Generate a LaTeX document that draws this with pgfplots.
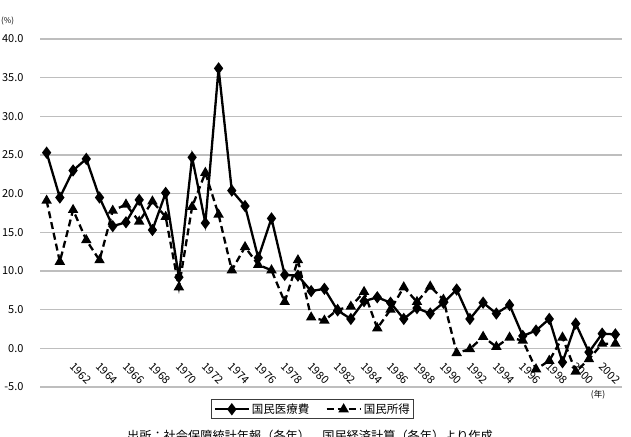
\documentclass[border=0pt]{standalone}
\usepackage{fontspec}
\setmainfont{Noto Sans CJK JP}
\usepackage{pgfplots}
\pgfplotsset{compat=1.18}
\usepackage{pgfplotstable}
\definecolor{gridgray}{RGB}{190,190,190}

\pgfplotstableread{
year med inc
1961 25.3 19.1
1962 19.5 11.2
1963 23.0 17.9
1964 24.5 14.0
1965 19.5 11.4
1966 15.8 17.8
1967 16.3 18.6
1968 19.2 16.4
1969 15.3 19.0
1970 20.1 17.0
1971 9.2 7.9
1972 24.7 18.3
1973 16.2 22.7
1974 36.2 17.3
1975 20.4 10.1
1976 18.4 13.1
1977 11.7 10.8
1978 16.8 10.1
1979 9.5 6.0
1980 9.4 11.4
1981 7.4 4.0
1982 7.7 3.6
1983 4.9 5.0
1984 3.8 5.4
1985 6.1 7.3
1986 6.6 2.6
1987 5.9 5.0
1988 3.8 7.9
1989 5.2 6.0
1990 4.5 8.0
1991 5.9 6.3
1992 7.6 -0.6
1993 3.8 -0.1
1994 5.9 1.5
1995 4.5 0.2
1996 5.6 1.4
1997 1.6 1.0
1998 2.3 -2.7
1999 3.8 -1.6
2000 -1.8 1.4
2001 3.2 -3.0
2002 -0.5 -1.4
2003 1.9 0.6
2004 1.8 0.6
}\datatable

\begin{document}
\begin{tikzpicture}[x=1pt,y=1pt]
\useasboundingbox (0,0) rectangle (631,436);
\begin{axis}[
  at={(40pt,49pt)}, anchor=south west,
  scale only axis, width=582pt, height=348pt,
  xmin=1960.5, xmax=2004.5, ymin=-5, ymax=40,
  ytick={-5,0,5,10,15,20,25,30,35,40},
  xtick={1962,1964,...,2002},
  xticklabels={1962,1964,1966,1968,1970,1972,1974,1976,1978,1980,1982,1984,1986,1988,1990,1992,1994,1996,1998,2000,2002},
  yticklabel={\pgfmathprintnumber[fixed,fixed zerofill,precision=1,assume math mode=true]{\tick}},
  ymajorgrids,
  major grid style={draw=gridgray, line width=1.3pt},
  axis line style={draw=none},
  major tick length=0pt,
  tick label style={font=\fontsize{11}{13}\selectfont},
  yticklabel style={anchor=east, xshift=-13pt},
  xticklabel style={xshift=15pt, yshift=30pt, rotate=-45, anchor=north west},
  legend style={at={(0.4686,-0.064)}, anchor=center, legend columns=2,
    draw={rgb,255:red,60;green,60;blue,60}, line width=0.8pt,
    font=\fontsize{11.5}{13}\selectfont, inner sep=2pt,
    /tikz/every even column/.append style={column sep=14pt}},
  legend image code/.code={\draw[#1, mark repeat=2, mark phase=2] plot coordinates {(0pt,0pt) (17pt,0pt) (34pt,0pt)};},
]
\addplot[black, line width=2.3pt, mark=diamond*, mark size=4.3pt, mark options={solid}] table[x=year,y=med] {\datatable};
\addlegendentry{国民医療費}
\addplot[black, line width=2.3pt, dash pattern=on 7pt off 4pt, mark=triangle*, mark size=3.8pt, mark options={solid}] table[x=year,y=inc] {\datatable};
\addlegendentry{国民所得}
\end{axis}
\node[font=\fontsize{8}{9}\selectfont, anchor=west, inner sep=0pt] at (1,415) {(\%)};
\node[font=\fontsize{8.5}{9}\selectfont, inner sep=0pt] at (598,41) {(年)};
\node[font=\fontsize{12.2}{14}\selectfont, anchor=base, inner sep=0pt] at (310,-4) {出所：社会保障統計年報（各年）、国民経済計算（各年）より作成};
\end{tikzpicture}
\end{document}
